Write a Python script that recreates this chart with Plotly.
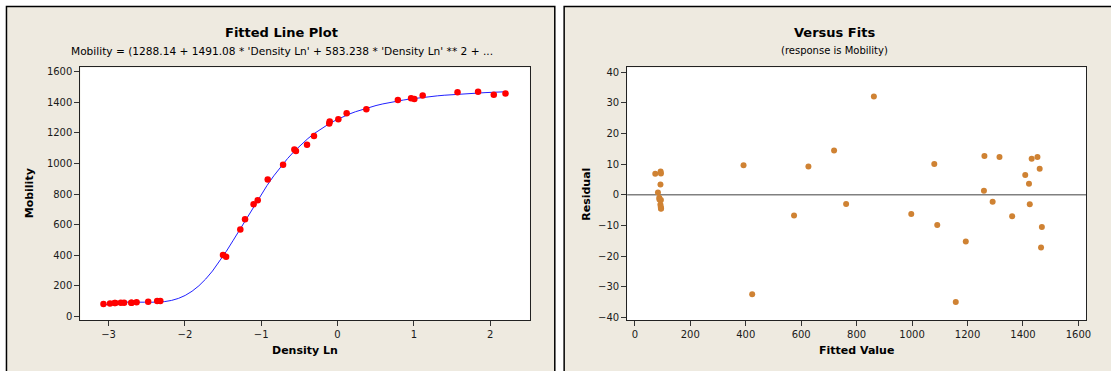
import plotly.graph_objects as go

# ---- data (Thurber: Mobility vs Density Ln) ----
density_ln = [-3.067, -2.981, -2.921, -2.912, -2.840, -2.797, -2.702, -2.699, -2.633, -2.481,
              -2.363, -2.322, -1.501, -1.460, -1.274, -1.212, -1.100, -1.046, -0.915, -0.714,
              -0.566, -0.545, -0.400, -0.309, -0.109, -0.103, 0.010, 0.119, 0.377, 0.790,
              0.963, 1.006, 1.115, 1.572, 1.841, 2.047, 2.200]
mobility = [80.574, 84.248, 87.264, 87.195, 89.076, 89.608, 89.868, 90.101, 92.405, 95.854,
            100.696, 101.060, 401.672, 390.724, 567.534, 635.316, 733.054, 759.087, 894.206, 990.785,
            1090.109, 1080.914, 1122.643, 1178.351, 1260.531, 1273.514, 1288.339, 1327.543, 1353.863, 1414.509,
            1425.208, 1421.384, 1442.962, 1464.350, 1468.705, 1447.894, 1457.628]
fitted_value = [73.8, 83.5, 88.2, 88.8, 92.3, 93.5, 94.5, 94.5, 94.1, 92.5,
                93.1, 94.2, 392.1, 423.3, 574.3, 626.1, 718.7, 762.1, 862.2, 997.1,
                1080.1, 1090.8, 1157.6, 1193.7, 1259.2, 1260.9, 1290.6, 1315.2, 1360.9, 1408.1,
                1421.6, 1424.5, 1431.3, 1452.1, 1460.2, 1465.1, 1468.1]
residual = [6.8, 0.7, -1.0, -1.6, -3.2, -3.9, -4.6, -4.4, -1.7, 3.3,
            7.6, 6.9, 9.6, -32.5, -6.8, 9.2, 14.4, -3.0, 32.0, -6.3,
            10.0, -9.9, -35.0, -15.3, 1.3, 12.6, -2.3, 12.3, -7.0, 6.4,
            3.6, -3.1, 11.7, 12.3, 8.5, -17.2, -10.5]
# fitted line sampled along Density Ln
line_x = [-3.067, -2.978, -2.888, -2.799, -2.710, -2.621, -2.531, -2.442, -2.353, -2.264,
          -2.174, -2.085, -1.996, -1.906, -1.817, -1.728, -1.639, -1.549, -1.460, -1.371,
          -1.282, -1.192, -1.103, -1.014, -0.924, -0.835, -0.746, -0.657, -0.567, -0.478,
          -0.389, -0.300, -0.210, -0.121, -0.032, 0.057, 0.147, 0.236, 0.325, 0.415,
          0.504, 0.593, 0.682, 0.772, 0.861, 0.950, 1.039, 1.129, 1.218, 1.307,
          1.397, 1.486, 1.575, 1.664, 1.754, 1.843, 1.932, 2.021, 2.111, 2.200]
line_y = [73.8, 83.8, 90.2, 93.4, 94.5, 94.0, 93.0, 92.4, 93.3, 96.9,
          104.7, 117.7, 137.2, 164.6, 200.1, 244.1, 296.5, 357.1, 423.3, 494.1,
          567.6, 642.8, 716.2, 787.3, 855.6, 918.9, 977.3, 1030.7, 1079.6, 1123.2,
          1162.2, 1197.0, 1228.3, 1255.7, 1280.1, 1301.7, 1321.0, 1337.9, 1352.9, 1366.3,
          1378.2, 1388.7, 1398.1, 1406.5, 1414.0, 1420.7, 1426.7, 1432.1, 1437.0, 1441.4,
          1445.4, 1448.9, 1452.2, 1455.1, 1457.8, 1460.3, 1462.5, 1464.5, 1466.4, 1468.1]

left_ticks_x = [-3, -2, -1, 0, 1, 2]
left_ticks_y = [0, 200, 400, 600, 800, 1000, 1200, 1400, 1600]
right_ticks_x = [0, 200, 400, 600, 800, 1000, 1200, 1400, 1600]
right_ticks_y = [-40, -30, -20, -10, 0, 10, 20, 30, 40]

W, H = 1111, 371
def px(x): return x / W
def py(y): return 1 - y / H

FONT = "DejaVu Sans"
BG = "#EEEAE0"
TXT = "#1a1a1a"

fig = go.Figure()
fig.add_trace(go.Scatter(x=line_x, y=line_y, mode="lines",
                         line=dict(color="#2020FF", width=1), xaxis="x", yaxis="y",
                         hoverinfo="skip"))
fig.add_trace(go.Scatter(x=density_ln, y=mobility, mode="markers",
                         marker=dict(color="#FF0000", size=6.5), xaxis="x", yaxis="y"))
fig.add_trace(go.Scatter(x=fitted_value, y=residual, mode="markers",
                         marker=dict(color="#CF8233", size=6), xaxis="x2", yaxis="y2"))

ax_common = dict(showline=True, mirror=True, linecolor="#222", linewidth=1,
                 ticks="outside", ticklen=5, tickcolor="#333", tickwidth=1,
                 showgrid=False, zeroline=False,
                 tickfont=dict(family=FONT, size=10, color=TXT),
                 title_font=dict(family=FONT, size=11, color="#000"))

ydom = [py(322), py(67)]
fig.update_layout(
    width=W, height=H, margin=dict(l=0, r=0, t=0, b=0),
    paper_bgcolor="white", plot_bgcolor="rgba(0,0,0,0)",
    showlegend=False,
    xaxis=dict(domain=[px(80.7), px(532.3)], range=[-3.37, 2.52], tickvals=left_ticks_x,
               anchor="y", **ax_common),
    yaxis=dict(domain=ydom, range=[-26, 1627], tickvals=left_ticks_y, anchor="x", **ax_common),
    xaxis2=dict(domain=[px(630), px(1091)], range=[-27.6, 1627.6], tickvals=right_ticks_x,
                anchor="y2", **ax_common),
    yaxis2=dict(domain=ydom, range=[-41.0, 41.5], tickvals=right_ticks_y, anchor="x2", **ax_common),
)

shapes = [
    dict(type="rect", xref="paper", yref="paper", x0=px(6.5), x1=px(557.3), y0=py(380), y1=py(5.5),
         fillcolor=BG, line=dict(color="#000", width=1.5), layer="below"),
    dict(type="rect", xref="paper", yref="paper", x0=px(566.7), x1=px(1120), y0=py(380), y1=py(5.5),
         fillcolor=BG, line=dict(color="#000", width=1.5), layer="below"),
    dict(type="rect", xref="paper", yref="paper", x0=px(80.7), x1=px(532.3), y0=ydom[0], y1=ydom[1],
         fillcolor="white", line=dict(width=0), layer="below"),
    dict(type="rect", xref="paper", yref="paper", x0=px(630), x1=px(1091), y0=ydom[0], y1=ydom[1],
         fillcolor="white", line=dict(width=0), layer="below"),
    dict(type="line", xref="x2 domain", yref="y2", x0=0, x1=1, y0=0, y1=0,
         line=dict(color="#808080", width=1.5), layer="below"),
]
fig.update_layout(shapes=shapes)

def ann(text, x, y, size, bold=False, angle=0):
    return dict(text=f"<b>{text}</b>" if bold else text, x=px(x), y=py(y), xref="paper", yref="paper",
                showarrow=False, xanchor="center", yanchor="middle", textangle=angle,
                font=dict(family=FONT, size=size, color="#000"))

annotations = [
    ann("Fitted Line Plot", 283, 32, 13, bold=True),
    ann("Mobility = (1288.14 + 1491.08 * 'Density Ln' + 583.238 * 'Density Ln' ** 2 + ...", 283, 50, 10.6),
    ann("Versus Fits", 838, 32, 13, bold=True),
    ann("(response is Mobility)", 838, 50, 10),
    ann("Density Ln", 306, 352, 11, bold=True),
    ann("Fitted Value", 860, 352, 11, bold=True),
    ann("Mobility", 30, 194, 11, bold=True, angle=-90),
    ann("Residual", 589, 195, 11, bold=True, angle=-90),
]
fig.update_layout(annotations=annotations)

fig.write_html("out.html", config={"displayModeBar": False},
               post_script="document.body.style.margin='0';document.body.style.overflow='hidden';")
